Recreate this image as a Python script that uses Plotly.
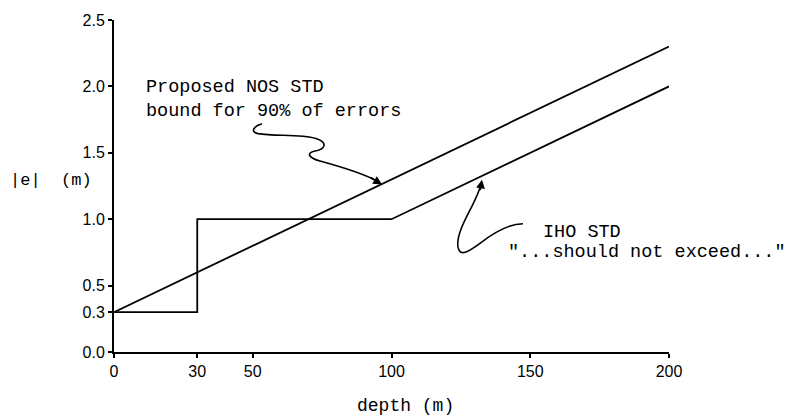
import plotly.graph_objects as go

# ---- data ----
nos_depth = [0, 200]
nos_err = [0.3, 2.3]
iho_depth = [0, 30, 30, 100, 200]
iho_err = [0.3, 0.3, 1.0, 1.0, 2.0]
x_ticks = [0, 30, 50, 100, 150, 200]
x_ticklabels = ["0", "30", "50", "100", "150", "200"]
y_ticks = [0, 0.3, 0.5, 1.0, 1.5, 2.0, 2.5]
y_ticklabels = ["0.0", "0.3", "0.5", "1.0", "1.5", "2.0", "2.5"]

W, H = 791, 417
ML, MR, MT, MB = 114, 122, 13, 65
X0, X1 = 0, 200
Y0, Y1 = 0, 2.5
pw = W - ML - MR
ph = H - MT - MB


def X(px):
    return X0 + (px - ML) / pw * (X1 - X0)


def Y(py):
    return Y0 + (H - MB - py) / ph * (Y1 - Y0)


def PX(px):
    return (px - ML) / pw


def PY(py):
    return (H - MB - py) / ph


def path(cmds):
    out = []
    for c in cmds:
        if isinstance(c, str):
            out.append(c)
        else:
            out.append(f"{X(c[0]):.4f},{Y(c[1]):.4f}")
    return " ".join(out)


MONO = "Liberation Mono, Courier New, monospace"
SANS = "Liberation Sans, Arial, Helvetica, sans-serif"

fig = go.Figure()
fig.add_trace(go.Scatter(x=nos_depth, y=nos_err, mode="lines",
                         line=dict(color="black", width=1.8),
                         cliponaxis=False, showlegend=False))
fig.add_trace(go.Scatter(x=iho_depth, y=iho_err, mode="lines",
                         line=dict(color="black", width=1.8),
                         cliponaxis=False, showlegend=False))

nos_arrow = path(["M", (262, 119), "C", (255, 121), (249, 127), (258, 129),
                  "C", (275, 132), (300, 129), (316, 134),
                  "C", (328, 138), (326, 145), (314, 147),
                  "C", (306, 149), (309, 154), (320, 157),
                  "C", (345, 164), (366, 171), (378, 178)])
iho_arrow = path(["M", (523, 221), "C", (510, 221), (494, 230), (480, 241),
                  "C", (468, 250), (460, 255), (458, 245),
                  "C", (456, 233), (466, 215), (472, 203),
                  "C", (476, 195), (479, 188), (481, 181)])

shapes = [
    dict(type="path", xref="x", yref="y", path=nos_arrow,
         line=dict(color="black", width=1.6)),
    dict(type="path", xref="x", yref="y", path=iho_arrow,
         line=dict(color="black", width=1.6)),
]

annotations = [
    dict(x=X(382), y=Y(181), ax=-13, ay=-8, showarrow=True, arrowhead=2,
         arrowsize=1.1, arrowwidth=1.6, arrowcolor="black", text=""),
    dict(x=X(482), y=Y(176), ax=-2, ay=12, showarrow=True, arrowhead=2,
         arrowsize=1.1, arrowwidth=1.6, arrowcolor="black", text=""),
    dict(x=X(144), y=Y(94), xanchor="left", yanchor="middle", align="left",
         showarrow=False, text="Proposed NOS STD<br>bound for 90% of errors",
         font=dict(family=MONO, size=18.5, color="black")),
    dict(x=X(541), y=Y(230), xanchor="left", yanchor="middle", showarrow=False,
         text="IHO STD", font=dict(family=MONO, size=18.5, color="black")),
    dict(x=X(506), y=Y(250), xanchor="left", yanchor="middle", showarrow=False,
         text="\"...should not exceed...\"",
         font=dict(family=MONO, size=18.5, color="black")),
    dict(xref="paper", yref="paper", x=PX(8), y=PY(177), xanchor="left",
         yanchor="middle", showarrow=False,
         text="|e|  (m)", font=dict(family=MONO, size=17, color="black")),
    dict(xref="paper", yref="paper", x=PX(405), y=PY(407), xanchor="center",
         yanchor="middle", showarrow=False,
         text="depth (m)", font=dict(family=MONO, size=18, color="black")),
]
for a in annotations:
    a.setdefault("xref", "x")
    a.setdefault("yref", "y")

axis_common = dict(showline=True, linecolor="black", linewidth=2,
                   showgrid=False, zeroline=False, ticks="outside",
                   ticklen=4, tickwidth=1.5, tickcolor="black",
                   tickfont=dict(family=SANS, size=16, color="black"))

fig.update_layout(
    width=W, height=H, autosize=False,
    margin=dict(l=ML, r=MR, t=MT, b=MB, pad=0),
    paper_bgcolor="white", plot_bgcolor="white",
    xaxis=dict(range=[X0, X1], tickvals=x_ticks, ticktext=x_ticklabels,
               **axis_common),
    yaxis=dict(range=[Y0, Y1], tickvals=y_ticks, ticktext=y_ticklabels,
               **axis_common),
    shapes=shapes, annotations=annotations, showlegend=False,
)

fig.write_html("out.html")
